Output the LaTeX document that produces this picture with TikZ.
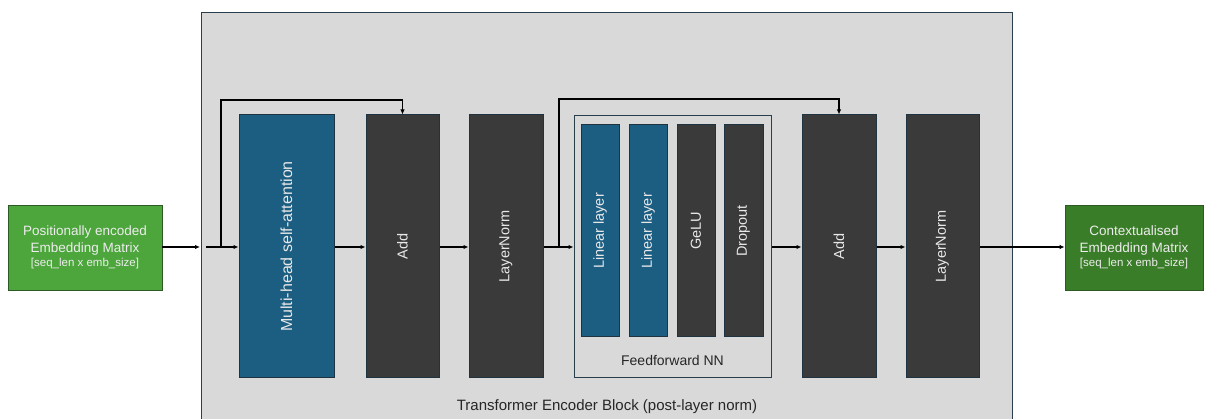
\documentclass[tikz,border=0pt]{standalone}
\usepackage{fontspec}
\setmainfont{Liberation Sans}
\usetikzlibrary{arrows.meta}

\definecolor{blockgray}{HTML}{D9D9D9}
\definecolor{blockedge}{HTML}{2B3E4C}
\definecolor{darkbox}{HTML}{3A3A3A}
\definecolor{darkedge}{HTML}{1F3340}
\definecolor{bluebox}{HTML}{1B5E82}
\definecolor{lightgreen}{HTML}{4CA63C}
\definecolor{darkgreen}{HTML}{3A7D28}
\definecolor{greenedge}{HTML}{2C5A24}
\definecolor{labeltext}{HTML}{E8E8E8}

\tikzset{
  layerbox/.style={draw=darkedge, line width=1pt, inner sep=0pt,
    text=labeltext, font=\fontsize{14.5}{17}\selectfont},
  darklayer/.style={layerbox, fill=darkbox},
  bluelayer/.style={layerbox, fill=bluebox},
  matrixbox/.style={draw=greenedge, line width=0.8pt, inner sep=0pt, text=white!93!black,
    align=center, minimum width=#1, minimum height=85pt,
    font=\fontsize{13.5}{17}\selectfont},
  flow/.style={line width=1.1pt, -{Latex[length=5pt,width=4.5pt]}},
  skip/.style={line width=1.3pt, -{Latex[length=5pt,width=4.5pt]}},
}

\newcommand{\vlabel}[1]{\rotatebox{90}{#1}}
\newcommand{\shapenote}{\fontsize{11.5}{13}\selectfont}

\begin{document}
\begin{tikzpicture}[x=1pt, y=-1pt]
  \useasboundingbox (0,0) rectangle (1208,419);
  \clip (0,0) rectangle (1208,419);

  % encoder block background
  \node[draw=blockedge, line width=1pt, fill=blockgray, inner sep=0pt,
        minimum width=811pt, minimum height=420pt] (block) at (606.5,223) {};
  \node[text=black!85, font=\fontsize{15}{18}\selectfont] (blocklabel) at (607,407)
    {Transformer Encoder Block (post-layer norm)};

  % input and output matrices
  \node[matrixbox=154pt, fill=lightgreen] (input) at (85,247.5)
    {Positionally encoded\\Embedding Matrix\\[-3pt]\shapenote [seq\_len x emb\_size]};
  \node[matrixbox=138pt, fill=darkgreen] (output) at (1134,247.5)
    {Contextualised\\Embedding Matrix\\[-3pt]\shapenote [seq\_len x emb\_size]};

  % attention sub-layer
  \node[bluelayer, font=\fontsize{16}{18}\selectfont,
        minimum width=95pt, minimum height=263pt] (mhsa) at (286.5,246.5)
    {\vlabel{Multi-head self-attention}};
  \node[darklayer, minimum width=73pt, minimum height=263pt] (add1) at (402.5,246.5)
    {\vlabel{Add}};
  \node[darklayer, minimum width=74pt, minimum height=263pt] (ln1) at (506,246.5)
    {\vlabel{LayerNorm}};

  % feedforward sub-layer
  \node[draw=blockedge, line width=1pt, fill=blockgray, inner sep=0pt,
        minimum width=197pt, minimum height=262pt] (ffn) at (672.5,247) {};
  \node[bluelayer, minimum width=38pt, minimum height=212pt] (lin1) at (600,231)
    {\vlabel{Linear layer}};
  \node[bluelayer, minimum width=38pt, minimum height=212pt] (lin2) at (648,231)
    {\vlabel{Linear layer}};
  \node[darklayer, minimum width=38pt, minimum height=212pt] (gelu) at (696,231)
    {\vlabel{GeLU}};
  \node[darklayer, minimum width=39pt, minimum height=212pt] (drop) at (743.5,231)
    {\vlabel{Dropout}};
  \node[text=black!85, font=\fontsize{14}{16}\selectfont] (ffnlabel) at (672.5,360)
    {Feedforward NN};

  \node[darklayer, minimum width=74pt, minimum height=263pt] (add2) at (839,246.5)
    {\vlabel{Add}};
  \node[darklayer, minimum width=73pt, minimum height=263pt] (ln2) at (942.5,246.5)
    {\vlabel{LayerNorm}};

  % junction points
  \coordinate (blockin) at (200,247);
  \coordinate (split1) at (221,247);
  \coordinate (top1) at (221,100);
  \coordinate (split2) at (559,247);
  \coordinate (top2) at (559,99);

  % main data flow
  \draw[flow] (input.east |- blockin) -- (blockin);
  \draw[flow] (206,247) -- (mhsa.west |- blockin);
  \draw[flow] (mhsa.east |- blockin) -- (add1.west |- blockin);
  \draw[flow] (add1.east |- blockin) -- (ln1.west |- blockin);
  \draw[flow] (ln1.east |- blockin) -- (ffn.west |- blockin);
  \draw[flow] (ffn.east |- blockin) -- (add2.west |- blockin);
  \draw[flow] (add2.east |- blockin) -- (ln2.west |- blockin);
  \draw[flow] (ln2.east |- blockin) -- (output.west |- blockin);

  % residual connections
  \draw[skip] (split1) -- (top1) -| (add1.north);
  \draw[skip] (split2) -- (top2) -| (add2.north);
\end{tikzpicture}
\end{document}
